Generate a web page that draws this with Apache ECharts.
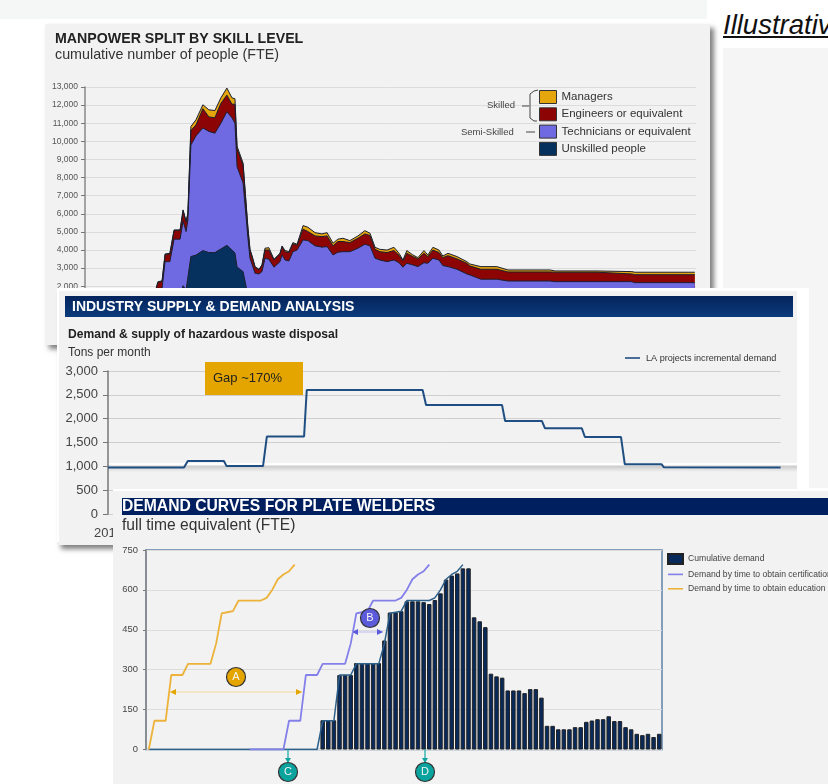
<!DOCTYPE html>
<html>
<head>
<meta charset="utf-8">
<title>Manpower and demand charts</title>
<script src="https://cdn.jsdelivr.net/npm/echarts@6/dist/echarts.min.js"></script>
<style>
html, body { margin: 0; padding: 0; background: #fff; overflow: hidden; }
body { width: 828px; height: 784px; position: relative; font-family: "Liberation Sans", Arial, sans-serif; }
.topBand { position: absolute; left: 0; top: 0; width: 707px; height: 19px; background: #f5f6f6; }
.sideBand { position: absolute; left: 723px; top: 48px; width: 105px; height: 440px; background: #f5f5f5; }
.illustrative { position: absolute; left: 723px; top: 9px; font-size: 27.5px; font-style: italic; text-decoration: underline; color: #111; white-space: nowrap; }
.panel { position: absolute; background: #f2f2f2; overflow: hidden; }
.shadowBox { position: absolute; }
.chart { position: absolute; left: 0; top: 0; width: 100%; height: 100%; }
#box1 { left: 45px; top: 24px; width: 665px; height: 321px; box-shadow: 4px 4px 5px rgba(0,0,0,.5); }
#box2 { left: 59px; top: 291px; width: 738px; height: 254px; box-shadow: 12px -3px 0 #fff, -2px -3px 0 #fff, 2px 4px 5px rgba(0,0,0,.5); }
#box3 { left: 113px; top: 491px; width: 715px; height: 293px; box-shadow: 0 -2px 0 #fff; }
#panel1 { left: 45px; top: 24px; width: 665px; height: 321px; }
#panel2 { left: 59px; top: 291px; width: 738px; height: 254px; }
#panel3 { left: 113px; top: 491px; width: 715px; height: 293px; }
.bar2 { position: absolute; left: 6px; top: 5px; width: 728px; height: 21px; background: linear-gradient(#05245c, #0b3b7c); }
.bar3 { position: absolute; left: 9px; top: 7px; width: 706px; height: 17px; background: #001f5f; }
.band2 { position: absolute; left: 49px; top: 172px; width: 689px; height: 9px; background: linear-gradient(#fff 0, #fff 2px, #cbcbcb 3px, #f2f2f2 100%); }
</style>
</head>
<body>
<div class="topBand"></div>
<div class="sideBand"></div>
<div class="illustrative">Illustrative</div>

<div class="shadowBox" id="box1"></div>
<div class="panel" id="panel1"><div class="chart" id="chart1"></div></div>

<div class="shadowBox" id="box2"></div>
<div class="panel" id="panel2">
    <div class="bar2"></div>
    <div class="band2"></div>
    <div class="chart" id="chart2"></div>
</div>

<div class="shadowBox" id="box3"></div>
<div class="panel" id="panel3">
    <div class="bar3"></div>
    <div class="chart" id="chart3"></div>
</div>

<script>
const FONT = '"Liberation Sans", Arial, sans-serif';
// thin bar in the middle of the legend box, the two zero-length segments hold the box size
const LINE_ICON = 'path://M0,0 L0,0 M0,4.2 L15,4.2 L15,5.8 L0,5.8 Z M0,10 L0,10';

// manpower chart: top edge of each cumulative layer, by month
const skillMonths = [23, 23.3, 24.3, 25.7, 26.7, 28.3, 29.7, 31, 31.7, 32.7, 33.7, 34.3, 35.3, 37, 39.3, 41.3, 43.3, 45.3, 47.3, 49, 50, 50.7, 52.7, 54.3, 55, 55.7, 56.7, 58, 59, 60, 61.3, 63, 65, 65.7, 66.7, 68, 69.3, 70.7, 72.7, 74.3, 76.7, 79, 80.7, 82.7, 84.3, 86, 88.3, 91, 93.3, 95, 96.7, 98.3, 100.7, 103, 104.7, 106, 107.3, 109.3, 111, 113, 114.3, 116, 118, 119.3, 121, 124, 127.3, 128.3, 132, 137.3, 141, 155, 156.7, 170.7, 171, 182.3, 183.3, 203.3];
const managersTop = [0, 1630, 2250, 2300, 3785, 3820, 5110, 5110, 5110, 6215, 5580, 6020, 10820, 11190, 12020, 11740, 11700, 12400, 12940, 12400, 12350, 9730, 8800, 5300, 4040, 3680, 3085, 2940, 3177, 4100, 4130, 3490, 3820, 4225, 3970, 3910, 4410, 4320, 5350, 5260, 4960, 4890, 4960, 4380, 4600, 4650, 4520, 4780, 5070, 4930, 4150, 4040, 4000, 4150, 3820, 3450, 3970, 3730, 3580, 3970, 3730, 4150, 4000, 3670, 3820, 3640, 3360, 3230, 3085, 3085, 2900, 2900, 2845, 2845, 2810, 2810, 2775, 2775];
const engineersTop = [0, 1600, 2200, 2280, 3750, 3790, 5080, 5090, 5090, 6180, 5550, 5990, 10600, 10900, 11800, 11350, 11300, 12100, 12550, 12050, 12050, 9600, 8700, 5200, 4000, 3650, 3050, 2910, 3150, 4000, 4000, 3460, 3790, 4190, 3900, 3860, 4350, 4270, 5150, 5020, 4780, 4740, 4780, 4230, 4470, 4470, 4410, 4650, 4890, 4800, 4040, 3910, 3860, 3970, 3710, 3400, 3820, 3640, 3510, 3820, 3640, 4000, 3860, 3580, 3690, 3510, 3270, 3120, 2940, 2940, 2790, 2790, 2775, 2775, 2680, 2680, 2640, 2640];
const techniciansTop = [0, 1400, 1890, 1900, 3360, 3360, 4600, 4600, 4600, 5600, 5020, 5660, 9800, 10300, 10740, 10550, 10450, 11000, 11640, 11300, 11000, 8600, 7700, 4700, 3545, 3200, 2718, 2680, 2810, 3545, 3490, 3050, 3360, 3730, 3450, 3400, 3910, 4000, 4560, 4520, 4230, 4160, 4190, 3730, 3880, 3910, 3910, 4100, 4320, 4230, 3545, 3450, 3360, 3450, 3300, 3050, 3270, 3177, 3085, 3300, 3270, 3545, 3450, 3140, 3085, 2940, 2680, 2625, 2390, 2390, 2290, 2290, 2255, 2255, 2255, 2255, 2200, 2200];
const unskilledTop = [0, 0, 0, 0, 0, 0, 0, 0, 1500, 2030, 1800, 1700, 3640, 3720, 3970, 3860, 3860, 4060, 4260, 4000, 3830, 3060, 2810, 1500, 900, 0, 0, 0, 0, 0, 0, 0, 0, 0, 0, 0, 0, 0, 0, 0, 0, 0, 0, 0, 0, 0, 0, 0, 0, 0, 0, 0, 0, 0, 0, 0, 0, 0, 0, 0, 0, 0, 0, 0, 0, 0, 0, 0, 0, 0, 0, 0, 0, 0, 0, 0, 0, 0];

// waste disposal chart
const wasteMonths = [0, 20, 21, 30.5, 31.2, 40.8, 41.8, 51.6, 52.3, 82.8, 83.7, 103.7, 104.5, 114.2, 115, 124.7, 125.5, 135, 136, 145.7, 146.3, 177];
const wasteDemand = [975, 975, 1112, 1112, 1005, 1005, 1625, 1625, 2600, 2600, 2285, 2285, 1950, 1950, 1797, 1797, 1615, 1615, 1042, 1042, 979, 975];

// welders chart, 92 periods
const welderPeriods = Array.from({length: 92}, (_, i) => String(i + 1));
const cumulativeDemand = [null, null, null, null, null, null, null, null, null, null, null, null, null, null, null, null, null, null, null, null, null, null, null, null, null, null, null, null, null, null, null,
    110, 110, 110, 280, 280, 280, 325, 325, 325, 325, 325, 410, 515, 516, 520, 557, 557, 557, 554, 547, 562, 587, 639, 654, 662, 681, 681, 497, 482, 460, 285, 275, 270, 222, 222, 222, 212, 227, 227, 195, 89, 89, 76, 76, 76, 84, 84, 104, 109, 114, 114, 125, 107, 107, 84, 76, 59, 54, 59, 47, 59];
const educationDemand = [0, 108, 108, 108, 280, 280, 280, 322, 322, 322, 322, 322, 398, 512, 516, 520, 560, 560, 560, 560, 560, 570, 600, 640, 658, 670, 695];
const certificationDemand = [null, null, null, null, null, null, null, null, null, null, null, null, null, null, null, null, null, null, 0, 0, 0, 0, 0, 0,
    0, 108, 108, 108, 280, 280, 280, 322, 322, 322, 322, 322, 398, 512, 516, 520, 560, 560, 560, 560, 560, 570, 600, 640, 658, 670, 695];
const demandOutline = [0, 0, 0, 0, 0, 0, 0, 0, 0, 0, 0, 0, 0, 0, 0, 0, 0, 0, 0, 0, 0, 0, 0, 0, 0, 0, 0, 0, 0, 0,
    0, 108, 108, 108, 280, 280, 280, 322, 322, 322, 322, 322, 398, 512, 516, 520, 560, 560, 560, 560, 560, 570, 600, 640, 658, 670, 695];

const zipMonths = (months, values) => months.map((m, i) => [m, values[i]]);

function skillLayer(name, color, values) {
    return {
        name: name,
        type: 'line',
        symbol: 'none',
        data: zipMonths(skillMonths, values),
        itemStyle: {color: color},
        lineStyle: {color: '#1c2030', width: 1},
        areaStyle: {color: color, opacity: 1}
    };
}

const chart1 = echarts.init(document.getElementById('chart1'));
chart1.setOption({
    animation: false,
    title: [
        {text: 'MANPOWER SPLIT BY SKILL LEVEL', left: 10, top: 8, padding: 0, textStyle: {fontFamily: FONT, fontSize: 14.2, fontWeight: 'bold', color: '#222'}},
        {text: 'cumulative number of people (FTE)', left: 10, top: 24, padding: 0, textStyle: {fontFamily: FONT, fontSize: 14.3, fontWeight: 'normal', color: '#333'}}
    ],
    grid: {left: 40, top: 63, width: 611, height: 235.5},
    legend: {
        orient: 'vertical', left: 494, top: 66, padding: 0, itemWidth: 17, itemHeight: 13, itemGap: 3.3, icon: 'rect',
        data: ['Managers', 'Engineers or equivalent', 'Technicians or equivalent', 'Unskilled people'],
        itemStyle: {borderColor: '#333', borderWidth: 1},
        textStyle: {fontFamily: FONT, fontSize: 11.5, color: '#333', lineHeight: 13}
    },
    xAxis: {type: 'value', min: 0, max: 203.7, show: false},
    yAxis: {
        type: 'value', min: 0, max: 13000, interval: 1000,
        axisLine: {show: true, lineStyle: {color: '#888', width: 1.5}},
        axisTick: {show: true, length: 4, lineStyle: {color: '#777'}},
        axisLabel: {fontFamily: FONT, fontSize: 8.5, color: '#555', margin: 7},
        splitLine: {lineStyle: {color: '#dcdcdc'}}
    },
    series: [
        skillLayer('Managers', '#e5a50d', managersTop),
        skillLayer('Engineers or equivalent', '#8c0404', engineersTop),
        skillLayer('Technicians or equivalent', '#706ae2', techniciansTop),
        skillLayer('Unskilled people', '#06315f', unskilledTop)
    ],
    graphic: [
        {type: 'text', z: 100, style: {x: 442, y: 76, text: 'Skilled', font: '9.5px ' + FONT, fill: '#444'}},
        {type: 'text', z: 100, style: {x: 416, y: 103, text: 'Semi-Skilled', font: '9.5px ' + FONT, fill: '#444'}},
        {type: 'line', z: 100, shape: {x1: 481, y1: 108, x2: 490, y2: 108}, style: {stroke: '#444', lineWidth: 1}},
        {type: 'line', z: 100, shape: {x1: 477, y1: 82, x2: 484, y2: 82}, style: {stroke: '#444', lineWidth: 1}},
        {type: 'polyline', z: 100, shape: {points: [[493, 66], [489, 67], [485, 70], [485, 94], [489, 97], [492, 97]]}, style: {stroke: '#444', lineWidth: 1, fill: 'none'}}
    ]
});

const chart2 = echarts.init(document.getElementById('chart2'));
chart2.setOption({
    animation: false,
    title: [
        {text: 'INDUSTRY SUPPLY & DEMAND ANALYSIS', left: 13, top: 9.5, padding: 0, textStyle: {fontFamily: FONT, fontSize: 14, fontWeight: 'bold', color: '#fff'}},
        {text: 'Demand & supply of hazardous waste disposal', left: 9, top: 38, padding: 0, textStyle: {fontFamily: FONT, fontSize: 12.1, fontWeight: 'bold', color: '#222'}},
        {text: 'Tons per month', left: 9, top: 56, padding: 0, textStyle: {fontFamily: FONT, fontSize: 12, fontWeight: 'normal', color: '#333'}}
    ],
    grid: {left: 49, top: 80, width: 672.6, height: 143},
    legend: {
        left: 566, top: 62, padding: 0, itemWidth: 17, itemHeight: 10, icon: LINE_ICON,
        textStyle: {fontFamily: FONT, fontSize: 9.1, color: '#333'}
    },
    xAxis: {type: 'value', min: 0, max: 177, show: false},
    yAxis: {
        type: 'value', min: 0, max: 3000, interval: 500,
        axisLine: {show: true, lineStyle: {color: '#777', width: 1.5}},
        axisTick: {show: true, length: 5, lineStyle: {color: '#777'}},
        axisLabel: {fontFamily: FONT, fontSize: 13, color: '#444', margin: 10},
        splitLine: {lineStyle: {color: '#cfcfcf'}}
    },
    series: [{
        name: 'LA projects incremental demand',
        type: 'line',
        symbol: 'none',
        data: zipMonths(wasteMonths, wasteDemand),
        itemStyle: {color: '#1f4e82'},
        lineStyle: {color: '#1f4e82', width: 2}
    }],
    graphic: [
        {type: 'rect', z: 100, shape: {x: 146, y: 71, width: 98, height: 33}, style: {fill: '#e5a500'}},
        {type: 'text', z: 101, style: {x: 154, y: 81, text: 'Gap ~170%', font: '13px ' + FONT, fill: '#222'}},
        {type: 'text', z: 100, style: {x: 35, y: 236, text: '201', font: '13px ' + FONT, fill: '#444'}}
    ]
});

// lettered markers on the welders chart
function marker(letter, cx, cy, color) {
    return [
        {type: 'circle', z: 100, shape: {cx: cx, cy: cy, r: 9.5}, style: {fill: color, stroke: '#333', lineWidth: 1.2}},
        {type: 'text', z: 101, style: {x: cx, y: cy, text: letter, align: 'center', verticalAlign: 'middle', font: '11px ' + FONT, fill: '#f4f4f4'}}
    ];
}

function spanArrow(x1, x2, y, color, lineColor) {
    return [
        {type: 'line', z: 99, shape: {x1: x1, y1: y, x2: x2, y2: y}, style: {stroke: lineColor, lineWidth: 1.2}},
        {type: 'polygon', z: 99, shape: {points: [[x1, y], [x1 + 6, y - 3], [x1 + 6, y + 3]]}, style: {fill: color}},
        {type: 'polygon', z: 99, shape: {points: [[x2, y], [x2 - 6, y - 3], [x2 - 6, y + 3]]}, style: {fill: color}}
    ];
}

function downArrow(x, y1, y2, color) {
    return [
        {type: 'line', z: 99, shape: {x1: x, y1: y1, x2: x, y2: y2}, style: {stroke: color, lineWidth: 1.2}},
        {type: 'polygon', z: 99, shape: {points: [[x, y2 + 2], [x - 3, y2 - 3], [x + 3, y2 - 3]]}, style: {fill: color}}
    ];
}

const chart3 = echarts.init(document.getElementById('chart3'));
chart3.setOption({
    animation: false,
    title: [
        {text: 'DEMAND CURVES FOR PLATE WELDERS', left: 9, top: 8, padding: 0, textStyle: {fontFamily: FONT, fontSize: 15.7, fontWeight: 'bold', color: '#fff'}},
        {text: 'full time equivalent (FTE)', left: 9, top: 27, padding: 0, textStyle: {fontFamily: FONT, fontSize: 15.6, fontWeight: 'normal', color: '#333'}}
    ],
    grid: {left: 33, top: 59, width: 516, height: 199.5, show: true, borderColor: '#5f82a8', borderWidth: 1.5},
    legend: {
        orient: 'vertical', left: 554, top: 62, padding: 0, itemWidth: 15, itemHeight: 10, itemGap: 4.4,
        data: [
            {name: 'Cumulative demand', icon: 'rect'},
            {name: 'Demand by time to obtain certification', icon: LINE_ICON},
            {name: 'Demand by time to obtain education', icon: LINE_ICON}
        ],
        textStyle: {fontFamily: FONT, fontSize: 8.6, color: '#444'}
    },
    xAxis: {
        type: 'category', data: welderPeriods,
        axisLine: {show: false}, axisTick: {show: false}, axisLabel: {show: false}
    },
    yAxis: {
        type: 'value', min: 0, max: 750, interval: 150,
        axisLine: {show: true, lineStyle: {color: '#888', width: 1.5}},
        axisTick: {show: true, length: 3, lineStyle: {color: '#777'}},
        axisLabel: {fontFamily: FONT, fontSize: 9.4, color: '#444', margin: 8},
        splitLine: {lineStyle: {color: '#dcdcdc'}}
    },
    series: [
        {
            name: 'Cumulative demand', type: 'bar', data: cumulativeDemand, barWidth: 4.5,
            itemStyle: {color: '#07295c', borderColor: '#222', borderWidth: 1}
        },
        {
            name: 'Demand line', type: 'line', data: demandOutline, symbol: 'none',
            lineStyle: {color: '#2c5f8a', width: 1.5}, itemStyle: {color: '#2c5f8a'}
        },
        {
            name: 'Demand by time to obtain certification', type: 'line', data: certificationDemand, symbol: 'none',
            lineStyle: {color: '#8480ea', width: 1.8}, itemStyle: {color: '#8480ea'}
        },
        {
            name: 'Demand by time to obtain education', type: 'line', data: educationDemand, symbol: 'none',
            lineStyle: {color: '#ecb23a', width: 1.8}, itemStyle: {color: '#ecb23a'}
        }
    ],
    graphic: [].concat(
        spanArrow(57, 189, 201, '#e5a500', '#f3dba2'),
        marker('A', 123, 186, '#e5a500'),
        spanArrow(239, 270, 141, '#5b5bdc', '#c3c1f2'),
        marker('B', 257, 127, '#5b5bdc'),
        downArrow(175, 258, 270, '#12a5a0'),
        marker('C', 175, 281, '#0ba39e'),
        downArrow(312, 258, 270, '#12a5a0'),
        marker('D', 312, 281, '#0ba39e')
    )
});
</script>
</body>
</html>
